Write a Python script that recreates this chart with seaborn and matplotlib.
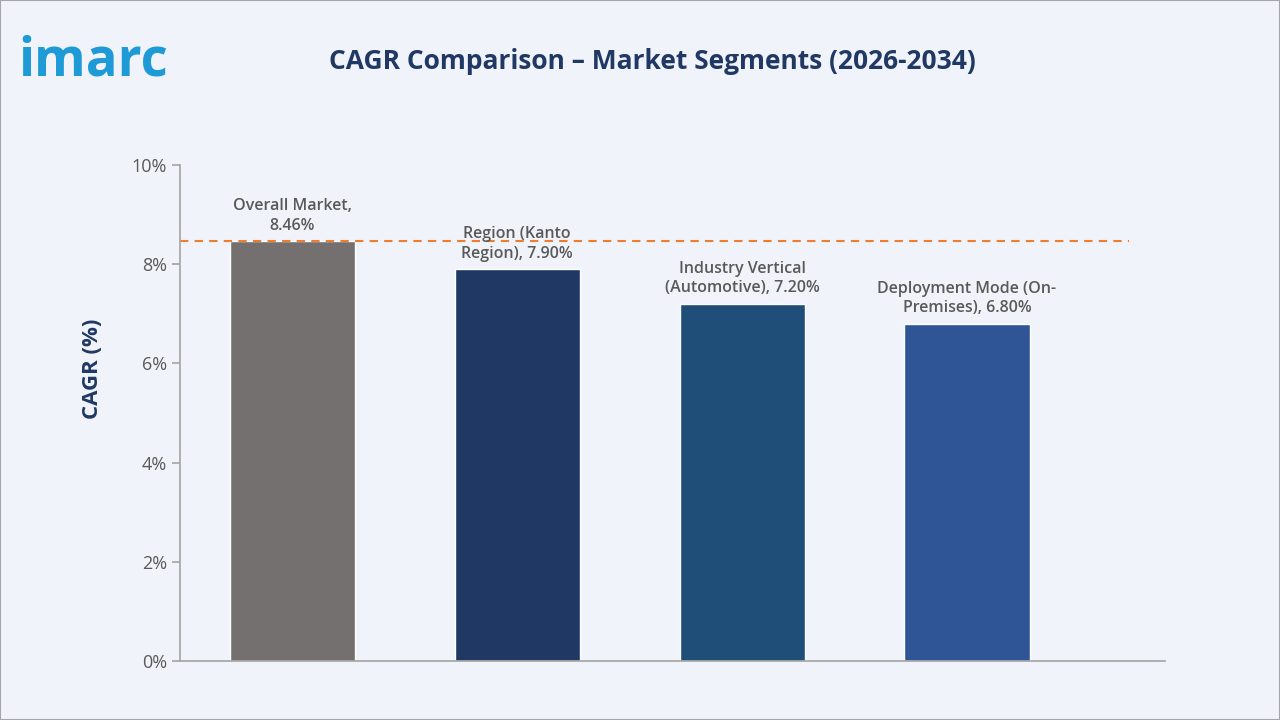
import matplotlib
matplotlib.use("Agg")
import matplotlib.pyplot as plt
import seaborn as sns
import pandas as pd

categories = ["Overall Market", "Region (Kanto Region)", "Industry Vertical (Automotive)", "Deployment Mode (On-Premises)"]
labels = ["Overall Market,\n8.46%", "Region (Kanto\nRegion), 7.90%", "Industry Vertical\n(Automotive), 7.20%", "Deployment Mode (On-\nPremises), 6.80%"]
values = [8.46, 7.90, 7.20, 6.80]
colors = ["#747070", "#203864", "#1F4E79", "#2F5597"]
yticks = [0, 2, 4, 6, 8, 10]

sns.set_theme(style="white")
plt.rcParams['font.family'] = ['Open Sans', 'DejaVu Sans']
bg = "#F0F3F9"
fig = plt.figure(figsize=(12.8, 7.2), dpi=100, facecolor=bg)
ax = fig.add_axes([0.1406, 0.0819, 0.7695, 0.6889])
ax.set_facecolor(bg)
df = pd.DataFrame({"cat": categories, "val": values})
sns.barplot(data=df, x="cat", y="val", hue="cat", palette=colors, width=0.557, legend=False, ax=ax, saturation=1)
ax.set_xlim(-0.5, 3.88)
ax.set_ylim(0, 10)
ax.set_yticks(yticks)
ax.set_yticklabels([f"{t}%" for t in yticks], color="#595959", fontsize=13)
ax.set_xticks([])
ax.set_xlabel("")
ax.set_ylabel("CAGR (%)", color="#203864", fontsize=16, fontweight="bold")
ax.yaxis.set_label_coords(-0.078, 0.59)
for s in ["top", "right"]:
    ax.spines[s].set_visible(False)
for s in ["left", "bottom"]:
    ax.spines[s].set_color("#A6A6A6")
ax.tick_params(axis="y", length=6, color="#A6A6A6", left=True)
ax.axhline(values[0], xmin=0, xmax=(3.72 + 0.5) / 4.38, color="#ED7D31", ls=(0, (4, 3)), lw=1.5)
for i, (v, l) in enumerate(zip(values, labels)):
    ax.text(i, v + 0.15, l, ha="center", va="bottom", fontsize=11.5, color="#595959", fontweight="semibold", linespacing=1.3)
fig.text(0.51, 0.915, "CAGR Comparison – Market Segments (2026-2034)", ha="center", va="center",
         fontsize=19, fontweight="bold", color="#203864")
fig.text(0.014, 0.915, "imarc", ha="left", va="center", fontsize=38, fontweight="bold", color="#1E9BD7")
fig.add_artist(plt.Rectangle((0, 0), 1, 1, transform=fig.transFigure, fill=False, ec="#A6A6A6", lw=1.5))
fig.savefig("out.png", dpi=100, facecolor=bg)
